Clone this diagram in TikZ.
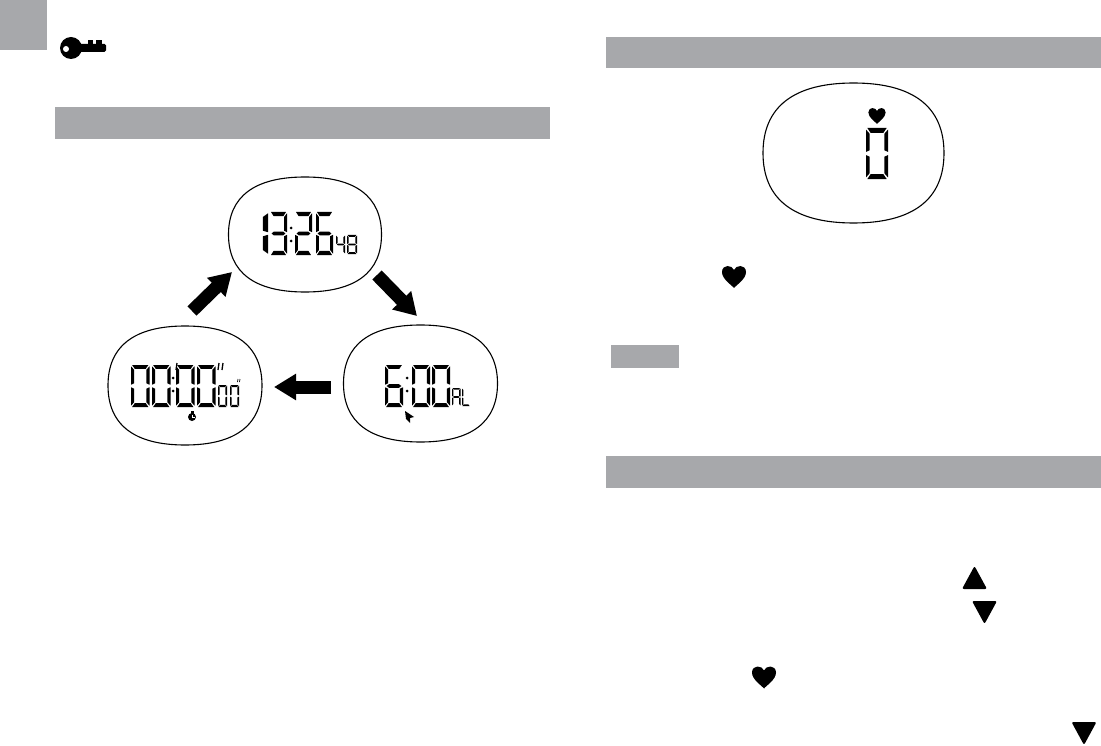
\documentclass[tikz,border=0pt]{standalone}
\usepackage{tikz}
\usetikzlibrary{arrows.meta}
\definecolor{bandgray}{HTML}{A7A8AB}
\tikzset{
    band/.style={fill=bandgray},
    blobline/.style={black, line width=1.1pt},
    blockarrow/.style={black, line width=13pt, -{Triangle[length=22pt,width=25pt]}},
    icon/.style={fill=black, rounded corners=2pt}
}
\newcommand{\lcdsega}{(0.6,0) -- (9.4,0) -- (7.9,1.9) -- (2.1,1.9) -- cycle}
\newcommand{\lcdsegb}{(10,0.6) -- (10,9.4) -- (8.3,8.7) -- (8.3,2.3) -- cycle}
\newcommand{\lcdsegc}{(10,10.6) -- (10,19.4) -- (8.3,17.7) -- (8.3,11.3) -- cycle}
\newcommand{\lcdsegd}{(0.6,20) -- (9.4,20) -- (7.9,18.1) -- (2.1,18.1) -- cycle}
\newcommand{\lcdsege}{(0,10.6) -- (0,19.4) -- (1.7,17.7) -- (1.7,11.3) -- cycle}
\newcommand{\lcdsegf}{(0,0.6) -- (0,9.4) -- (1.7,8.7) -- (1.7,2.3) -- cycle}
\newcommand{\lcdsegg}{(0.9,10) -- (2.3,9.1) -- (7.7,9.1) -- (9.1,10) -- (7.7,10.9) -- (2.3,10.9) -- cycle}
\newcommand{\lcddigit}[5]{
    \begin{scope}[shift={(#1,#2)}, x=#3*0.1pt, y=-#4*0.05pt]
        \foreach \seg in {#5}{\fill[black] \csname lcdseg\seg\endcsname;}
    \end{scope}
}
\newcommand{\lcdblob}[4]{
    \draw[blobline] (#1,#2-#4) .. controls (#1+0.66*#3,#2-#4) and (#1+#3,#2-0.66*#4) .. (#1+#3,#2)
        .. controls (#1+#3,#2+0.66*#4) and (#1+0.66*#3,#2+#4) .. (#1,#2+#4)
        .. controls (#1-0.66*#3,#2+#4) and (#1-#3,#2+0.66*#4) .. (#1-#3,#2)
        .. controls (#1-#3,#2-0.66*#4) and (#1-0.66*#3,#2-#4) .. (#1,#2-#4) -- cycle;
}
\newcommand{\lcdheart}[3]{
    \begin{scope}[shift={(#1,#2)}, x=#3*1pt, y=#3*1pt]
        \fill[black] (0,-11) .. controls (-3,-7.5) and (-12,-2) .. (-12,5)
            .. controls (-12,9) and (-9,11) .. (-6.5,11)
            .. controls (-3.5,11) and (-1,9.5) .. (0,7)
            .. controls (1,9.5) and (3.5,11) .. (6.5,11)
            .. controls (9,11) and (12,9) .. (12,5)
            .. controls (12,-2) and (3,-7.5) .. (0,-11) -- cycle;
    \end{scope}
}
\begin{document}
\begin{tikzpicture}[x=1pt, y=-1pt]
    \useasboundingbox (0,0) rectangle (1101,746);
    \fill[band] (0,0) rectangle (47,50);
    \fill[band] (55,107) rectangle (550,139);
    \fill[band] (606,37) rectangle (1101,68);
    \fill[band] (606,456) rectangle (1101,488);
    \fill[band] (611,345) rectangle (679,368);
    % key
    \fill[black] (71,48) circle (11);
    \fill[white] (66,49) circle (3);
    \fill[black, rounded corners=1.5pt] (78,44) rectangle (106,52);
    \fill[black] (88,40) rectangle (93,45);
    \fill[black] (96,40) rectangle (102,45);
    % displays
    \lcdblob{305}{234.5}{76.5}{57.5}
    \lcdblob{185}{385.5}{77}{59.5}
    \lcdblob{420.5}{383.5}{77}{58.5}
    \lcdblob{853.5}{153}{90.5}{70}
    % clock
    \lcddigit{238}{212}{30}{43}{b,c}
    \lcddigit{270}{212}{17}{43}{a,b,c,d,g}
    \lcddigit{295}{212}{17}{43}{a,b,g,e,d}
    \lcddigit{316}{212}{17}{43}{a,f,g,e,c,d}
    \foreach \i in {228,241}{\fill[black] (291,\i) circle (1.5);}
    \lcddigit{336}{235}{9}{19}{b,c,f,g}
    \lcddigit{347}{235}{10}{19}{a,b,c,d,e,f,g}
    % stopwatch
    \foreach \i in {131,152,176,197}{\lcddigit{\i}{365}{18.5}{42}{a,b,c,d,e,f}}
    \foreach \i in {378,391}{\fill[black] (173,\i) circle (1.5);}
    \foreach \i in {218,230}{\lcddigit{\i}{385}{9}{22}{a,b,c,d,e,f}}
    \draw[black, line width=1.3pt] (176,370) -- (177,363);
    \draw[black, line width=1.3pt] (218,370) -- (219,363);
    \draw[black, line width=1.3pt] (222,370) -- (223,363);
    \draw[black, line width=0.7pt] (237.5,382) -- (238,379);
    \draw[black, line width=0.7pt] (239.5,382) -- (240,379);
    \fill[black] (192,417) circle (4);
    \fill[black] (190.5,411) rectangle (193.5,414);
    \draw[white, line width=0.6pt] (192,414.5) -- (192,417) -- (194.5,417);
    % alarm
    \lcddigit{385}{365}{18}{42}{a,f,g,e,c,d}
    \foreach \i in {378,391}{\fill[black] (407,\i) circle (1.5);}
    \foreach \i in {412,432}{\lcddigit{\i}{365}{18}{42}{a,b,c,d,e,f}}
    \lcddigit{452}{388}{8.5}{18}{a,b,c,e,f,g}
    \lcddigit{462}{388}{8}{18}{d,e,f}
    \fill[black] (405,411) -- (414,417) -- (410,418) -- (410,423) -- (406,419) -- cycle;
    % heart rate
    \lcddigit{866}{128}{22}{51}{a,b,c,d,e,f}
    \lcdheart{877}{116}{0.72}
    % arrows
    \coordinate (clockin) at (232,272);
    \coordinate (clockout) at (377,275);
    \coordinate (alarmin) at (417,316);
    \coordinate (alarmout) at (331,387);
    \coordinate (watchin) at (274,387);
    \coordinate (watchout) at (192,311);
    \draw[blockarrow] (clockout) -- (alarmin);
    \draw[blockarrow] (alarmout) -- (watchin);
    \draw[blockarrow] (watchout) -- (clockin);
    % page symbols
    \lcdheart{734}{277}{1}
    \lcdheart{764}{677.5}{1}
    \fill[icon] (974.5,566) -- (987,589) -- (962,589) -- cycle;
    \fill[icon] (984.5,624) -- (997,601) -- (972,601) -- cycle;
    \fill[icon] (1084,745) -- (1096.5,722) -- (1071.5,722) -- cycle;
\end{tikzpicture}
\end{document}
